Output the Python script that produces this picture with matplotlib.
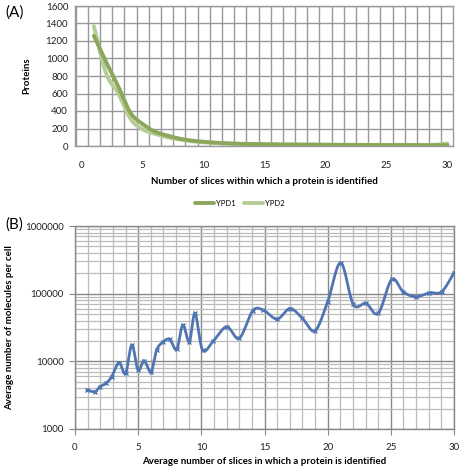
import numpy as np
import matplotlib
matplotlib.use("Agg")
import matplotlib.pyplot as plt
from matplotlib.ticker import FixedLocator, NullFormatter, LogLocator

plt.rcParams['font.family'] = ['Lato', 'DejaVu Sans']

# ---- Panel A data ----
slices_a = list(range(1, 31))
ypd1 = [1260, 960, 680, 380, 250, 165, 120, 85, 62, 48, 38, 30, 25, 22, 20, 18, 16, 15, 14, 13, 12, 12, 11, 11, 10, 10, 10, 9, 9, 9]
ypd2 = [1370, 830, 600, 310, 190, 140, 100, 75, 55, 42, 34, 28, 24, 22, 20, 19, 18, 17, 16, 16, 15, 14, 14, 13, 13, 13, 12, 12, 14, 28]
xticks_a = [0, 5, 10, 15, 20, 25, 30]
yticks_a = [0, 200, 400, 600, 800, 1000, 1200, 1400, 1600]

# ---- Panel B data ----
avg_slices = [0.98, 1.58, 1.98, 2.45, 2.9, 3.48, 4.0, 4.5, 4.99, 5.47, 6.02, 6.46, 6.99, 7.5,
              8.05, 8.53, 9.05, 9.5, 10.1, 10.95, 12.0, 13.0, 14.07, 14.9, 16.0, 17.02, 18.0,
              18.99, 20.0, 21.03, 22.03, 23.04, 24.0, 25.07, 25.99, 26.99, 28.05, 29.03, 30.0]
molecules = [3770, 3560, 4220, 4730, 5930, 9550, 6640, 17400, 7420, 10200, 7020, 14700, 19500, 21100,
             15000, 34400, 19500, 51200, 14700, 19950, 32400, 21900, 55900, 57300, 42200, 60300, 43200,
             28300, 75900, 286000, 69300, 71800, 51100, 162000, 106000, 90100, 103000, 107000, 204000]
xticks_b = [0, 5, 10, 15, 20, 25, 30]
yticks_b = [1000, 10000, 100000, 1000000]


def smooth(x, y, n=20):
    """Catmull-Rom style smooth curve through points (like Excel's smoothed line)."""
    x = np.asarray(x, float); y = np.asarray(y, float)
    px = np.concatenate([[x[0]], x, [x[-1]]])
    py = np.concatenate([[y[0]], y, [y[-1]]])
    ox, oy = [], []
    for i in range(1, len(px) - 2):
        p0, p1, p2, p3 = (np.array([px[j], py[j]]) for j in (i - 1, i, i + 1, i + 2))
        c1 = p1 + (p2 - p0) / 6.0
        c2 = p2 - (p3 - p1) / 6.0
        t = np.linspace(0, 1, n, endpoint=False)[:, None]
        b = ((1 - t) ** 3) * p1 + 3 * ((1 - t) ** 2) * t * c1 + 3 * (1 - t) * t ** 2 * c2 + t ** 3 * p2
        ox.extend(b[:, 0]); oy.extend(b[:, 1])
    ox.append(x[-1]); oy.append(y[-1])
    return np.array(ox), np.array(oy)


fig = plt.figure(figsize=(4.6, 4.68), dpi=100)

# ---------- Panel A ----------
axA = fig.add_axes([75 / 460, 1 - 146 / 468, 378 / 460, 140 / 468])
c1, c2 = '#8CA65C', '#B5CE96'
sx, sy = smooth(slices_a, ypd2)
axA.plot(sx, sy, color=c2, lw=2.8, label='YPD2', zorder=3, solid_capstyle='round')
sx, sy = smooth(slices_a, ypd1)
axA.plot(sx, sy, color=c1, lw=2.8, label='YPD1', zorder=3, solid_capstyle='round')
axA.set_xlim(-0.55, 30.45)
axA.set_ylim(0, 1600)
axA.set_xticks(xticks_a)
axA.set_yticks(yticks_a)
axA.grid(False)
for xv in np.arange(-0.5, 30.6, 1.0):
    axA.axvline(xv, color='#999999', lw=1.0, zorder=1)
axA.yaxis.grid(True, color='#999999', lw=1.0)
axA.set_axisbelow(True)
axA.tick_params(axis='both', which='both', length=0, labelsize=7, colors='#222222', pad=5)
axA.tick_params(axis='x', pad=11)
for s in axA.spines.values():
    s.set_color('#999999'); s.set_linewidth(1.0)
axA.set_ylabel('Proteins', fontsize=7, fontweight='bold', labelpad=10)
axA.set_xlabel('Number of slices within which a protein is identified', fontsize=7,
               fontweight='bold', labelpad=5)
handles, labels = axA.get_legend_handles_labels()
leg = fig.legend([handles[1], handles[0]], [labels[1], labels[0]], loc='center',
                 bbox_to_anchor=(240 / 460, 1 - 203 / 468), ncol=2, frameon=False,
                 fontsize=5.5, handlelength=2.5, columnspacing=1.0, handletextpad=0.3)
fig.text(5 / 460, 1 - 13 / 468, '(A)', fontsize=11, va='center', ha='left')

# ---------- Panel B ----------
axB = fig.add_axes([75 / 460, 1 - 429 / 468, 379 / 460, 203 / 468])
axB.set_yscale('log')
lx, ly = smooth(avg_slices, np.log10(molecules))
axB.plot(lx, 10 ** ly, color='#4F75B3', lw=2.0, zorder=3)
axB.plot(avg_slices, molecules, ls='none', marker='x', ms=3.5, mew=1.0, color='#4F75B3', zorder=4)
axB.set_xlim(0, 30)
axB.set_ylim(1000, 1000000)
axB.set_xticks(xticks_b)
axB.set_yticks(yticks_b)
axB.set_yticklabels([str(v) for v in yticks_b])
axB.yaxis.set_minor_locator(LogLocator(base=10, subs=np.arange(2, 10)))
axB.yaxis.set_minor_formatter(NullFormatter())
axB.xaxis.set_minor_locator(FixedLocator(np.arange(0, 31, 1)))
axB.grid(True, which='minor', color='#BBBBBB', lw=0.9)
axB.grid(True, which='major', color='#888888', lw=1.0)
axB.set_axisbelow(True)
axB.tick_params(axis='both', which='minor', length=0)
axB.tick_params(axis='both', which='major', length=4, color='#888888', labelsize=7,
                colors='#222222', pad=4)
axB.tick_params(axis='x', which='major', pad=6)
for s in axB.spines.values():
    s.set_color('#888888'); s.set_linewidth(1.0)
axB.set_ylabel('Average number of molecules per cell', fontsize=7, fontweight='bold', labelpad=8)
axB.set_xlabel('Average number of slices in which a protein is identified', fontsize=7,
               fontweight='bold', labelpad=4)
fig.text(5 / 460, 1 - 225 / 468, '(B)', fontsize=11, va='center', ha='left')

fig.savefig('out.png', dpi=100, facecolor='white')
